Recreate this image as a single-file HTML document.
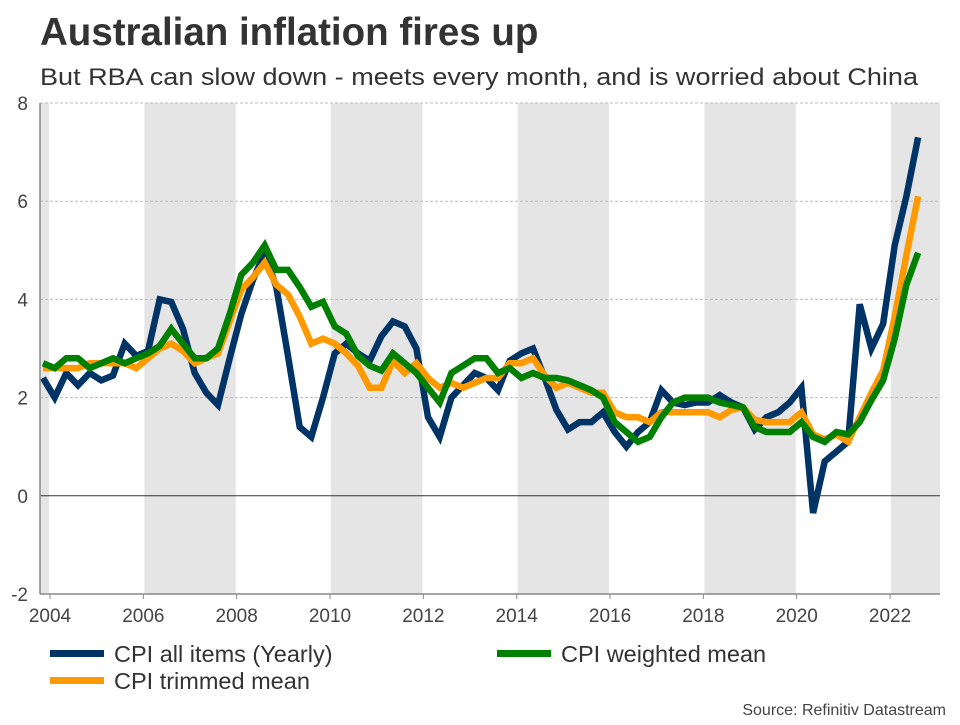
<!DOCTYPE html>
<html><head><meta charset="utf-8"><style>
body{margin:0;background:#fff;width:960px;height:720px;overflow:hidden;font-family:"Liberation Sans",sans-serif;}
svg text{font-family:"Liberation Sans",sans-serif;}
</style></head><body>
<svg id="chart" width="960" height="720">
<text x="40" y="45" font-size="38.5" font-weight="bold" fill="#333">Australian inflation fires up</text>
<text x="40" y="85" font-size="24" fill="#333" textLength="878" lengthAdjust="spacingAndGlyphs">But RBA can slow down - meets every month, and is worried about China</text>
<g id="bands"></g><g id="grid"></g><g id="series"></g><g id="axes"></g>
<g>
<rect x="50" y="650" width="54" height="7" fill="#003366"/>
<text x="114" y="662" font-size="23.5" fill="#333">CPI all items (Yearly)</text>
<rect x="497" y="650" width="54" height="7" fill="#008000"/>
<text x="561" y="662" font-size="23.5" fill="#333">CPI weighted mean</text>
<rect x="50" y="677" width="54" height="7" fill="#ff9900"/>
<text x="114" y="689" font-size="23.5" fill="#333">CPI trimmed mean</text>
</g>
<text x="946" y="715" font-size="16" fill="#444" text-anchor="end">Source: Refinitiv Datastream</text>
</svg>
<script>
const startYear = 2003.85;
const stepYear = 0.25;
const cpiAll = [2.4,2.0,2.5,2.25,2.5,2.35,2.45,3.1,2.85,2.95,
4.0,3.95,3.4,2.5,2.1,1.85,2.8,3.7,4.4,4.95,
4.25,2.85,1.4,1.2,2.0,2.9,3.1,2.9,2.75,3.25,
3.55,3.45,3.0,1.6,1.2,2.0,2.25,2.5,2.4,2.15,
2.75,2.9,3.0,2.4,1.75,1.35,1.5,1.5,1.7,1.3,
1.0,1.3,1.5,2.15,1.9,1.85,1.9,1.9,2.05,1.9,
1.8,1.35,1.6,1.7,1.9,2.2,-0.35,0.7,0.9,1.1,
3.9,3.0,3.5,5.1,6.1,7.3];
const cpiTrimmed = [2.6,2.6,2.6,2.6,2.7,2.7,2.7,2.7,2.6,2.8,
3.0,3.1,2.95,2.7,2.8,2.9,3.55,4.2,4.45,4.75,
4.3,4.1,3.65,3.1,3.2,3.1,2.9,2.65,2.2,2.2,
2.75,2.5,2.7,2.4,2.2,2.3,2.2,2.3,2.4,2.4,
2.7,2.7,2.8,2.45,2.2,2.3,2.2,2.1,2.1,1.7,
1.6,1.6,1.5,1.7,1.7,1.7,1.7,1.7,1.6,1.75,
1.8,1.55,1.5,1.5,1.5,1.7,1.25,1.15,1.25,1.1,
1.6,2.1,2.55,3.65,4.9,6.1];
const cpiWeighted = [2.7,2.6,2.8,2.8,2.6,2.7,2.8,2.7,2.8,2.9,
3.05,3.4,3.1,2.8,2.8,3.0,3.7,4.5,4.75,5.1,
4.6,4.6,4.25,3.85,3.95,3.45,3.3,2.85,2.65,2.55,
2.9,2.7,2.5,2.2,1.9,2.5,2.65,2.8,2.8,2.5,
2.6,2.4,2.5,2.4,2.4,2.35,2.25,2.15,2.0,1.5,
1.3,1.1,1.2,1.6,1.9,2.0,2.0,2.0,1.9,1.85,
1.8,1.4,1.3,1.3,1.3,1.5,1.2,1.1,1.3,1.25,
1.5,1.95,2.35,3.2,4.3,4.95];
const yTicks = [-2,0,2,4,6,8];
const xTicks = [2004,2006,2008,2010,2012,2014,2016,2018,2020,2022];
const bandStarts = [2002,2006,2010,2014,2018,2022];

const L=40,R=940,T=103,B=594;
const xMin=2003.786,xMax=2023.07,yMin=-2,yMax=8;
function xs(v){return L+(v-xMin)/(xMax-xMin)*(R-L);}
function ys(v){return B-(v-yMin)/(yMax-yMin)*(B-T);}
const NS="http://www.w3.org/2000/svg";
function mk(tag,attrs,parent){const e=document.createElementNS(NS,tag);for(const k in attrs)e.setAttribute(k,attrs[k]);parent.appendChild(e);return e;}
const bands=document.getElementById('bands'),grid=document.getElementById('grid'),series=document.getElementById('series'),axes=document.getElementById('axes');
bandStarts.forEach(s=>{
  const x1=Math.max(L,xs(s)+1),x2=Math.min(R,xs(s+2)-1);
  const r=mk('rect',{x:x1,y:T,width:x2-x1,height:B-T,fill:'#e5e5e5'},bands);
  
  
});
yTicks.forEach(v=>{
  if(v!==0&&v!==yMin){
    const g=mk('line',{x1:L,x2:R,y1:ys(v),y2:ys(v),stroke:'#bbb','stroke-dasharray':'3,2','stroke-width':1},grid);
    
    
  }
  const t=mk('text',{x:28,y:ys(v)+7,'font-size':19,fill:'#444','text-anchor':'end'},axes);
  t.textContent=v;
  
  
});
const zl=mk('line',{x1:L,x2:R,y1:ys(0),y2:ys(0),stroke:'#333','stroke-width':1},axes);


const ya=mk('line',{x1:L,x2:L,y1:T,y2:B,stroke:'#888','stroke-width':1.5},axes);


const xa=mk('line',{x1:L,x2:R,y1:B,y2:B,stroke:'#888','stroke-width':1.5},axes);


xTicks.forEach(v=>{
  const tk=mk('line',{x1:xs(v),x2:xs(v),y1:B,y2:B+5,stroke:'#888'},axes);
  
  
  const t=mk('text',{x:xs(v),y:B+28,'font-size':19,fill:'#444','text-anchor':'middle'},axes);
  t.textContent=v;
  
  
});
function line(arr,color,name){
  const pts=arr.map((v,i)=>xs(startYear+i*stepYear).toFixed(1)+','+ys(v).toFixed(1)).join(' ');
  const p=mk('polyline',{points:pts,fill:'none',stroke:color,'stroke-width':6.5,'stroke-linejoin':'miter','stroke-miterlimit':3},series);
  
  
}
line(cpiAll,'#003366','line-cpi-all-items');
line(cpiTrimmed,'#ff9900','line-cpi-trimmed-mean');
line(cpiWeighted,'#008000','line-cpi-weighted-mean');
</script>
</body></html>
